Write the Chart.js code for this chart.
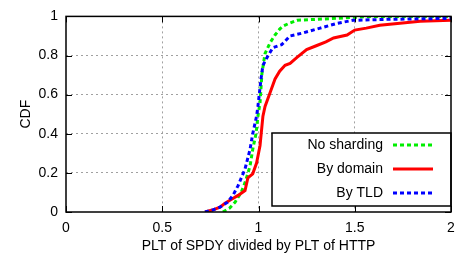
<!DOCTYPE html>
<html>
<head>
<meta charset="utf-8">
<script src="https://cdn.jsdelivr.net/npm/chart.js@4/dist/chart.umd.min.js"></script>
<style>
  html, body { margin: 0; padding: 0; background: #fff; }
  #wrap { width: 466px; height: 255px; }
</style>
</head>
<body>
<div id="wrap"><canvas id="cdfChart"></canvas></div>
<script>
// values
const xTicks = [0, 0.5, 1, 1.5, 2]
const yTicks = [0, 0.2, 0.4, 0.6, 0.8, 1]

const noShardX = [0.815, 0.85, 0.878, 0.91, 0.93, 0.956, 0.97, 0.987, 0.997, 1.008, 1.018, 1.034, 1.06, 1.086, 1.11, 1.127, 1.16, 1.2, 1.3, 1.4, 1.49, 1.6, 2.0]
const noShardY = [0, 0.02, 0.05, 0.1, 0.15, 0.235, 0.32, 0.4, 0.49, 0.56, 0.71, 0.81, 0.865, 0.905, 0.935, 0.95, 0.965, 0.98, 0.985, 0.99, 0.995, 1, 1]

const domainX = [0.722, 0.76, 0.8, 0.826, 0.86, 0.894, 0.93, 0.945, 0.97, 0.99, 1.008, 1.023, 1.034, 1.06, 1.086, 1.11, 1.138, 1.164, 1.2, 1.25, 1.3, 1.35, 1.39, 1.46, 1.5, 1.56, 1.63, 1.735, 1.84, 2.0]
const domainY = [0, 0.01, 0.025, 0.045, 0.065, 0.085, 0.11, 0.175, 0.195, 0.25, 0.34, 0.49, 0.54, 0.61, 0.68, 0.72, 0.75, 0.76, 0.79, 0.83, 0.85, 0.87, 0.89, 0.905, 0.93, 0.94, 0.955, 0.965, 0.975, 0.98]

const tldX = [0.722, 0.76, 0.8, 0.84, 0.87, 0.894, 0.93, 0.956, 0.97, 0.99, 0.997, 1.013, 1.023, 1.05, 1.075, 1.12, 1.164, 1.23, 1.32, 1.41, 1.49, 1.67, 2.0]
const tldY = [0, 0.01, 0.025, 0.05, 0.09, 0.135, 0.22, 0.32, 0.4, 0.49, 0.54, 0.68, 0.75, 0.8, 0.84, 0.855, 0.9, 0.915, 0.94, 0.965, 0.98, 0.985, 0.99]

const seriesNames = ['No sharding', 'By domain', 'By TLD']
const seriesColors = ['#00ee00', '#ff0000', '#0000ff']
const seriesDash = [[4, 3], [], [4, 3]]

function pts(xs, ys) {
    return xs.map((x, i) => ({ x: x, y: ys[i] }))
}

const FONT = { family: 'Liberation Sans, Arial, sans-serif', size: 14 }

// frame, inner ticks and legend box, drawn like the gnuplot original
const framePlugin = {
    id: 'frame',
    afterDatasetsDraw(chart) {
        const ctx = chart.ctx
        const a = chart.chartArea
        const xs = chart.scales.x
        const ys = chart.scales.y
        ctx.save()
        ctx.strokeStyle = '#000'
        ctx.lineWidth = 1
        ctx.beginPath()
        xTicks.forEach(v => {
            const px = Math.round(xs.getPixelForValue(v)) + 0.5
            ctx.moveTo(px, a.bottom); ctx.lineTo(px, a.bottom - 6)
            ctx.moveTo(px, a.top); ctx.lineTo(px, a.top + 6)
        })
        yTicks.forEach(v => {
            const py = Math.round(ys.getPixelForValue(v)) + 0.5
            ctx.moveTo(a.left, py); ctx.lineTo(a.left + 6, py)
            ctx.moveTo(a.right, py); ctx.lineTo(a.right - 6, py)
        })
        ctx.stroke()

        // legend
        const bx = a.right - 179, by = a.bottom - 79, bw = 179, bh = 73
        ctx.fillStyle = '#fff'
        ctx.fillRect(bx, by, bw, bh)
        ctx.lineWidth = 1.5
        ctx.strokeRect(bx, by, bw, bh)
        ctx.font = FONT.size + 'px ' + FONT.family
        ctx.textAlign = 'right'
        ctx.textBaseline = 'middle'
        seriesNames.forEach((name, i) => {
            const ry = by + 12 + i * 24
            ctx.fillStyle = '#000'
            ctx.fillText(name, a.right - 68, ry)
            ctx.strokeStyle = seriesColors[i]
            ctx.lineWidth = 3
            ctx.setLineDash(seriesDash[i])
            ctx.beginPath()
            ctx.moveTo(a.right - 58, ry)
            ctx.lineTo(a.right - 18, ry)
            ctx.stroke()
            ctx.setLineDash([])
        })

        ctx.strokeStyle = '#000'
        ctx.lineWidth = 1.5
        ctx.strokeRect(a.left, a.top, a.right - a.left, a.bottom - a.top)
        ctx.restore()
    }
}

const datasets = [
    { label: seriesNames[0], data: pts(noShardX, noShardY), order: 3 },
    { label: seriesNames[1], data: pts(domainX, domainY), order: 2 },
    { label: seriesNames[2], data: pts(tldX, tldY), order: 1 }
].map((d, i) => Object.assign(d, {
    showLine: true,
    borderColor: seriesColors[i],
    backgroundColor: seriesColors[i],
    borderWidth: 3,
    borderDash: seriesDash[i],
    pointRadius: 0,
    tension: 0,
    fill: false
}))

const chart = new Chart(document.getElementById('cdfChart'), {
    type: 'scatter',
    data: { datasets: datasets },
    options: {
        responsive: true,
        maintainAspectRatio: false,
        animation: false,
        layout: { padding: { top: 13, right: 15, left: 0, bottom: 0 } },
        plugins: { legend: { display: false }, tooltip: { enabled: false } },
        scales: {
            x: {
                type: 'linear',
                min: 0, max: 2,
                afterBuildTicks: s => { s.ticks = xTicks.map(v => ({ value: v })) },
                afterFit: s => { s.height = 43 },
                ticks: {
                    color: '#000', font: FONT, padding: 8, maxRotation: 0,
                    callback: v => String(v)
                },
                grid: {
                    color: c => (c.tick.value === 0 || c.tick.value === 2) ? 'rgba(0,0,0,0)' : '#a0a0a0',
                    lineWidth: 1, drawTicks: false
                },
                border: { display: false, dash: [2, 3] },
                title: { display: true, text: 'PLT of SPDY divided by PLT of HTTP', color: '#000', font: FONT, padding: { top: 0, bottom: 0 } }
            },
            y: {
                min: 0, max: 1,
                afterBuildTicks: s => { s.ticks = yTicks.map(v => ({ value: v })) },
                afterFit: s => { s.width = 66 },
                ticks: {
                    color: '#000', font: FONT, padding: 8,
                    callback: v => String(v)
                },
                grid: {
                    color: c => (c.tick.value === 0 || c.tick.value === 1) ? 'rgba(0,0,0,0)' : '#a0a0a0',
                    lineWidth: 1, drawTicks: false
                },
                border: { display: false, dash: [2, 3] },
                title: { display: true, text: 'CDF', color: '#000', font: FONT, padding: { top: 18, bottom: 0 } }
            }
        }
    },
    plugins: [framePlugin]
})
</script>
</body>
</html>
